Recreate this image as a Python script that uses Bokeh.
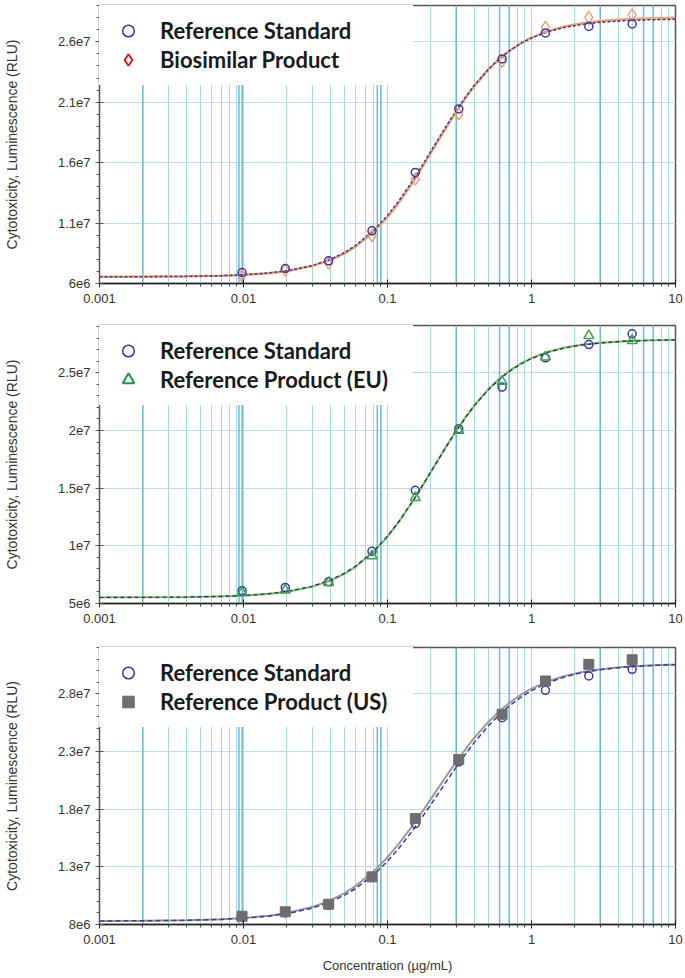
from bokeh.plotting import figure
from bokeh.models import (Range1d, FixedTicker, CustomJSTickFormatter, Legend,
                          LegendItem, Span)
from bokeh.layouts import column
from bokeh.embed import file_html
from bokeh.resources import INLINE

# ---------------- data ----------------
conc = [0.00977, 0.0195, 0.039, 0.078, 0.156, 0.3125, 0.625, 1.25, 2.5, 5.0]

p1_ref = [6.91e6, 7.24e6, 7.88e6, 10.36e6, 15.19e6, 20.44e6, 24.58e6, 26.73e6, 27.27e6, 27.47e6]
p1_bio = [6.64e6, 7.11e6, 7.69e6, 9.95e6, 14.64e6, 20.02e6, 24.38e6, 27.19e6, 28.02e6, 28.22e6]
p2_ref = [6.10e6, 6.39e6, 6.88e6, 9.53e6, 14.81e6, 20.15e6, 23.76e6, 26.30e6, 27.45e6, 28.38e6]
p2_eu = [5.95e6, 6.15e6, 6.82e6, 9.13e6, 14.18e6, 20.01e6, 24.25e6, 26.36e6, 28.23e6, 27.80e6]
p3_ref = [8.66e6, 9.01e6, 9.67e6, 12.07e6, 16.74e6, 22.08e6, 25.92e6, 28.29e6, 29.53e6, 30.11e6]
p3_us = [8.72e6, 9.10e6, 9.76e6, 12.13e6, 17.18e6, 22.29e6, 26.21e6, 29.10e6, 30.54e6, 30.94e6]

# fitted curves
curve_x = [0.001, 0.002, 0.004, 0.007, 0.01, 0.015, 0.02, 0.03, 0.04, 0.05, 0.06, 0.08,
           0.1, 0.12, 0.15, 0.18, 0.22, 0.26, 0.3, 0.35, 0.4, 0.5, 0.6, 0.7, 0.85, 1.0,
           1.3, 1.7, 2.2, 3.0, 4.5, 7.0, 10.0]
p1_ref_fit = [6.55e6, 6.56e6, 6.59e6, 6.64e6, 6.72e6, 6.87e6, 7.05e6, 7.48e6, 7.99e6, 8.54e6,
              9.14e6, 10.38e6, 11.63e6, 12.84e6, 14.53e6, 16.04e6, 17.75e6, 19.15e6, 20.30e6,
              21.46e6, 22.38e6, 23.71e6, 24.61e6, 25.24e6, 25.89e6, 26.31e6, 26.83e6, 27.19e6,
              27.42e6, 27.61e6, 27.75e6, 27.82e6, 27.86e6]
p1_bio_fit = [6.56e6, 6.57e6, 6.59e6, 6.64e6, 6.71e6, 6.85e6, 7.02e6, 7.44e6, 7.93e6, 8.47e6,
              9.05e6, 10.26e6, 11.49e6, 12.69e6, 14.38e6, 15.89e6, 17.61e6, 19.03e6, 20.20e6,
              21.38e6, 22.31e6, 23.67e6, 24.59e6, 25.24e6, 25.90e6, 26.34e6, 26.88e6, 27.26e6,
              27.51e6, 27.71e6, 27.86e6, 27.94e6, 27.98e6]
p2_ref_fit = [5.52e6, 5.53e6, 5.56e6, 5.62e6, 5.69e6, 5.85e6, 6.04e6, 6.49e6, 7.02e6, 7.61e6,
              8.23e6, 9.53e6, 10.84e6, 12.12e6, 13.89e6, 15.46e6, 17.26e6, 18.73e6, 19.94e6,
              21.15e6, 22.12e6, 23.51e6, 24.45e6, 25.11e6, 25.79e6, 26.23e6, 26.78e6, 27.16e6,
              27.40e6, 27.59e6, 27.74e6, 27.82e6, 27.86e6]
p2_eu_fit = [5.53e6, 5.54e6, 5.56e6, 5.61e6, 5.68e6, 5.83e6, 6.01e6, 6.45e6, 6.97e6, 7.55e6,
             8.17e6, 9.47e6, 10.79e6, 12.08e6, 13.87e6, 15.46e6, 17.27e6, 18.75e6, 19.97e6,
             21.19e6, 22.16e6, 23.56e6, 24.50e6, 25.16e6, 25.83e6, 26.27e6, 26.81e6, 27.18e6,
             27.42e6, 27.60e6, 27.74e6, 27.82e6, 27.86e6]
p3_ref_fit = [8.31e6, 8.32e6, 8.36e6, 8.44e6, 8.54e6, 8.72e6, 8.94e6, 9.42e6, 9.96e6, 10.52e6,
              11.11e6, 12.31e6, 13.48e6, 14.61e6, 16.17e6, 17.56e6, 19.16e6, 20.51e6, 21.64e6,
              22.81e6, 23.76e6, 25.19e6, 26.20e6, 26.94e6, 27.72e6, 28.26e6, 28.95e6, 29.45e6,
              29.80e6, 30.08e6, 30.31e6, 30.45e6, 30.51e6]
p3_us_fit = [8.31e6, 8.33e6, 8.37e6, 8.45e6, 8.56e6, 8.76e6, 8.99e6, 9.51e6, 10.09e6, 10.70e6,
             11.33e6, 12.59e6, 13.83e6, 15.00e6, 16.60e6, 18.02e6, 19.64e6, 20.98e6, 22.09e6,
             23.23e6, 24.16e6, 25.53e6, 26.49e6, 27.19e6, 27.93e6, 28.43e6, 29.07e6, 29.54e6,
             29.86e6, 30.12e6, 30.33e6, 30.46e6, 30.52e6]

x_ticks = [0.001, 0.01, 0.1, 1, 10]
x_tick_labels = ["0.001", "0.01", "0.1", "1", "10"]
p1_yticks = [6e6, 1.1e7, 1.6e7, 2.1e7, 2.6e7]
p1_ylabels = ["6e6", "1.1e7", "1.6e7", "2.1e7", "2.6e7"]
p2_yticks = [5e6, 1e7, 1.5e7, 2e7, 2.5e7]
p2_ylabels = ["5e6", "1e7", "1.5e7", "2e7", "2.5e7"]
p3_yticks = [8e6, 1.3e7, 1.8e7, 2.3e7, 2.8e7]
p3_ylabels = ["8e6", "1.3e7", "1.8e7", "2.3e7", "2.8e7"]

y_title = "Cytotoxicity, Luminescence (RLU)"
x_title = "Concentration (µg/mL)"

# ---------------- styling ----------------
FONT = "Liberation Sans"
GRID = "#a9d8e6"
GRID_DARK = "#6cbad3"
minor_x = [m * 10.0 ** e for e in range(-3, 1) for m in range(2, 10)]
dark_x = [0.002, 0.0093, 0.0098, 0.085, 0.09, 0.3, 0.6, 0.7, 3, 6, 7]

LABEL_JS = """
let best = 0; let d = Infinity;
for (let i = 0; i < tk.length; i++) {
  const dd = Math.abs(Math.log(tk[i]) - Math.log(tick));
  if (dd < d) { d = dd; best = i; }
}
return lb[best];
"""


def make_panel(height, top, bottom, yrange, yticks, ylabels, xlabel=None):
    p = figure(width=685, height=height, x_axis_type="log",
               x_range=Range1d(0.001, 10), y_range=Range1d(*yrange),
               output_backend="svg", toolbar_location=None,
               min_border_left=97, min_border_right=10,
               min_border_top=top, min_border_bottom=bottom)
    p.background_fill_color = "white"
    p.border_fill_color = "white"
    p.outline_line_color = "#555555"
    p.outline_line_width = 1.5

    ystep = 1e6
    n = int(round((yrange[1] - yrange[0]) / ystep))
    yminor = [yrange[0] + i * ystep for i in range(n + 1)]
    p.xaxis.ticker = FixedTicker(ticks=x_ticks, minor_ticks=minor_x)
    p.yaxis.ticker = FixedTicker(ticks=yticks, minor_ticks=yminor)
    p.xaxis.formatter = CustomJSTickFormatter(args=dict(tk=x_ticks, lb=x_tick_labels), code=LABEL_JS)
    p.yaxis.formatter = CustomJSTickFormatter(args=dict(tk=yticks, lb=ylabels), code=LABEL_JS)

    for ax in (p.xaxis[0], p.yaxis[0]):
        ax.major_label_text_font = FONT
        ax.major_label_text_font_size = "13px"
        ax.major_label_text_color = "#333333"
        ax.major_tick_in = 4
        ax.major_tick_out = 4
        ax.minor_tick_in = 0
        ax.minor_tick_out = 3
        ax.axis_label_text_font = FONT
        ax.axis_label_text_font_style = "normal"
        ax.axis_label_text_color = "#333333"
    p.xaxis.axis_line_color = "#222222"
    p.xaxis.axis_line_width = 1.5
    p.xaxis.major_tick_line_color = "#222222"
    p.xaxis.minor_tick_line_color = "#444444"
    p.xaxis.major_label_standoff = 6
    p.yaxis.axis_line_color = "#555555"
    p.yaxis.major_tick_line_color = "#555555"
    p.yaxis.minor_tick_line_color = "#555555"
    p.yaxis.major_label_standoff = 5
    p.yaxis.axis_label = y_title
    p.yaxis.axis_label_text_font_size = "14px"
    p.yaxis.axis_label_standoff = 35
    if xlabel:
        p.xaxis.axis_label = xlabel
        p.xaxis.axis_label_text_font_size = "13px"
        p.xaxis.axis_label_standoff = 11

    p.xgrid.grid_line_color = GRID
    p.xgrid.minor_grid_line_color = GRID
    p.xgrid.grid_line_width = 1
    p.ygrid.grid_line_color = "#b8e0ea"
    p.ygrid.grid_line_width = 1.2
    for xv in dark_x:
        s = Span(location=xv, dimension="height", line_color=GRID_DARK, line_width=1.5)
        s.level = "underlay"
        p.add_layout(s)
    return p


def add_legend(p, items):
    legend_items = []
    for label, marker, ys, kw in items:
        r = p.scatter(x=conc, y=ys, marker=marker, visible=False, **kw)
        legend_items.append(LegendItem(label=label, renderers=[r]))
    lg = Legend(items=legend_items, location="top_left", margin=0, padding=10,
                spacing=0, glyph_width=36, glyph_height=29, label_height=29,
                label_width=242, label_standoff=14,
                label_text_font="Lato", label_text_font_style="bold",
                label_text_font_size="22px", label_text_color="#1a1a1a",
                border_line_color="white", border_line_width=1,
                background_fill_color="white", background_fill_alpha=1.0)
    p.add_layout(lg)


BLUE = "#3c369e"

# ---- panel 1 ----
p1 = make_panel(322, 5, 39, (6e6, 2.9e7), p1_yticks, p1_ylabels)
p1.line(curve_x, p1_bio_fit, line_color="#e6a77c", line_width=2.5)
p1.line(curve_x, p1_ref_fit, line_color="#4a3585", line_width=1.5, line_dash="3 2")
p1.scatter(conc, p1_bio, marker="diamond", size=12, fill_color=None,
           line_color="#e8a27a", line_width=1.5)
p1.scatter(conc, p1_ref, marker="circle", size=8, fill_color=None,
           line_color=BLUE, line_width=1.5)
add_legend(p1, [("Reference Standard", "circle", p1_ref, dict(fill_color=None, line_color=BLUE, line_width=1.5)),
                ("Biosimilar Product", "diamond", p1_bio, dict(fill_color=None, line_color="#c8202a", line_width=2))])

# ---- panel 2 ----
p2 = make_panel(322, 3, 41, (5e6, 2.91e7), p2_yticks, p2_ylabels)
p2.line(curve_x, p2_eu_fit, line_color="#7cc47e", line_width=2.2)
p2.line(curve_x, p2_ref_fit, line_color="#2b2b2b", line_width=1.2, line_dash="4 3")
p2.scatter(conc, p2_ref, marker="circle", size=8, fill_color=None,
           line_color=BLUE, line_width=1.5)
p2.scatter(conc, p2_eu, marker="triangle", size=10, fill_color=None,
           line_color="#3f9e52", line_width=1.5)
add_legend(p2, [("Reference Standard", "circle", p2_ref, dict(fill_color=None, line_color=BLUE, line_width=1.5)),
                ("Reference Product (EU)", "triangle", p2_eu, dict(fill_color=None, line_color="#23944a", line_width=2))])

# ---- panel 3 ----
p3 = make_panel(334, 3, 54, (8e6, 3.2e7), p3_yticks, p3_ylabels, xlabel=x_title)
p3.line(curve_x, p3_us_fit, line_color="#9a9a9a", line_width=2)
p3.line(curve_x, p3_ref_fit, line_color="#3a3aa8", line_width=1.5, line_dash="5 3")
p3.scatter(conc, p3_ref, marker="circle", size=8, fill_color=None,
           line_color=BLUE, line_width=1.5)
p3.scatter(conc, p3_us, marker="square", size=10, fill_color="#6e6e6e",
           line_color="#6e6e6e", line_width=1)
add_legend(p3, [("Reference Standard", "circle", p3_ref, dict(fill_color=None, line_color=BLUE, line_width=1.5)),
                ("Reference Product (US)", "square", p3_us, dict(fill_color="#6e6e6e", line_color="#6e6e6e", line_width=1))])

layout = column(p1, p2, p3, spacing=0)
open("out.html", "w").write(file_html(layout, INLINE))
